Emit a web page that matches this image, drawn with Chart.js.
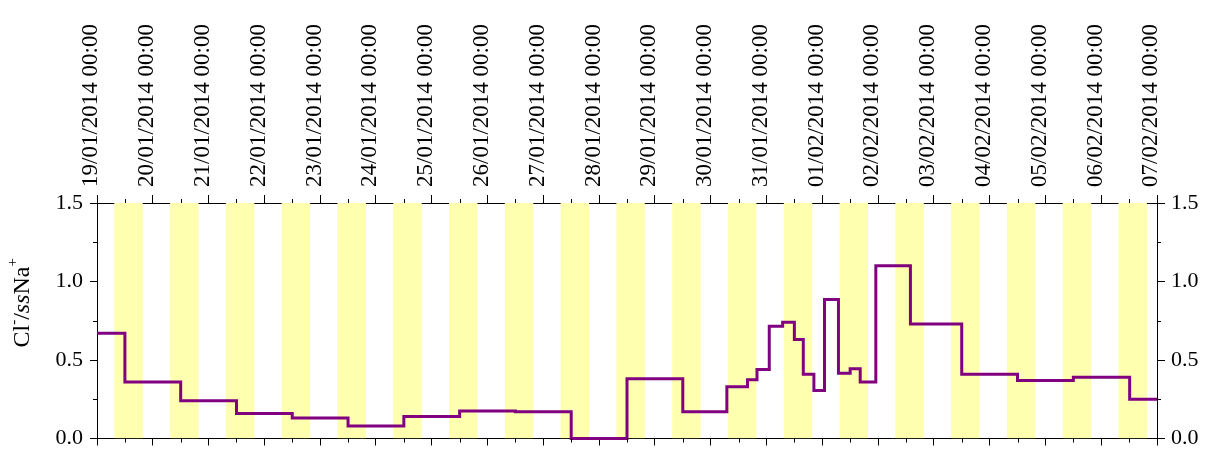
<!DOCTYPE html>
<html>
<head>
<meta charset="utf-8">
<script src="https://cdn.jsdelivr.net/npm/chart.js@4.4.1/dist/chart.umd.min.js"></script>
<style>
  html, body { margin: 0; padding: 0; background: #ffffff; }
  #c { display: block; }
</style>
</head>
<body>
<canvas id="c" width="1211" height="450"></canvas>
<script>
// ---- tick labels (top axis, one per day; x value = days since 19/01/2014 00:00) ----
const dayLabels = [
  '19/01/2014 00:00', '20/01/2014 00:00', '21/01/2014 00:00', '22/01/2014 00:00',
  '23/01/2014 00:00', '24/01/2014 00:00', '25/01/2014 00:00', '26/01/2014 00:00',
  '27/01/2014 00:00', '28/01/2014 00:00', '29/01/2014 00:00', '30/01/2014 00:00',
  '31/01/2014 00:00', '01/02/2014 00:00', '02/02/2014 00:00', '03/02/2014 00:00',
  '04/02/2014 00:00', '05/02/2014 00:00', '06/02/2014 00:00', '07/02/2014 00:00'
];
const yTickLabels = ['0.0', '0.5', '1.0', '1.5'];

// ---- Cl-/ssNa+ series: sample start times (days since 19/01/2014 00:00) and values ----
const sampleStart = [
  0.00, 0.50, 1.50, 2.50, 3.50, 4.50, 5.50, 6.50, 7.50, 8.50,
  9.50, 10.50, 11.29, 11.66, 11.83, 12.05, 12.29, 12.50, 12.66, 12.85,
  13.04, 13.29, 13.50, 13.68, 13.96, 14.58, 15.50, 16.50, 17.50, 18.51,
  19.00
];
const ratioValues = [
  0.67, 0.36, 0.24, 0.16, 0.13, 0.08, 0.14, 0.175, 0.17, 0.00,
  0.38, 0.17, 0.33, 0.375, 0.44, 0.715, 0.74, 0.63, 0.41, 0.305,
  0.885, 0.415, 0.445, 0.36, 1.10, 0.73, 0.41, 0.37, 0.39, 0.25,
  0.25
];

// ---- daylight periods (shaded), days since 19/01/2014 00:00 ----
const daylightStart = [
  0.31, 1.31, 2.31, 3.31, 4.31, 5.31, 6.31, 7.31, 8.31, 9.31,
  10.31, 11.31, 12.31, 13.31, 14.31, 15.31, 16.31, 17.31, 18.31
];
const daylightEnd = [
  0.82, 1.82, 2.82, 3.82, 4.82, 5.82, 6.82, 7.82, 8.82, 9.82,
  10.82, 11.82, 12.82, 13.82, 14.82, 15.82, 16.82, 17.82, 18.82
];
const yMin = 0, yMax = 1.5;

const serif = "'Liberation Serif', 'Times New Roman', 'DejaVu Serif', serif";

const ratioPoints = sampleStart.map((t, i) => ({ x: t, y: ratioValues[i] }));
const bandPoints = [{ x: 0, y: yMin }];
daylightStart.forEach((s, i) => {
  bandPoints.push({ x: s, y: yMax });
  bandPoints.push({ x: daylightEnd[i], y: yMin });
});

// minor tick marks halfway between the library's major ticks
const minorTicks = {
  id: 'minorTicks',
  afterDraw(chart) {
    const ctx = chart.ctx;
    const a = chart.chartArea;
    ctx.save();
    ctx.strokeStyle = '#000';
    ctx.lineWidth = 1;
    ctx.beginPath();
    const xs = chart.scales.x;
    for (let i = 0; i < xs.ticks.length - 1; i++) {
      const mid = (xs.ticks[i].value + xs.ticks[i + 1].value) / 2;
      const px = Math.round(xs.getPixelForValue(mid)) + 0.5;
      ctx.moveTo(px, a.bottom); ctx.lineTo(px, a.bottom + 4);
      ctx.moveTo(px, a.top); ctx.lineTo(px, a.top - 4);
    }
    const ys = chart.scales.y;
    for (let i = 0; i < ys.ticks.length - 1; i++) {
      const mid = (ys.ticks[i].value + ys.ticks[i + 1].value) / 2;
      const py = Math.round(ys.getPixelForValue(mid)) + 0.5;
      ctx.moveTo(a.left, py); ctx.lineTo(a.left - 4, py);
      ctx.moveTo(a.right, py); ctx.lineTo(a.right + 4, py);
    }
    ctx.stroke();
    ctx.restore();
  }
};

// y-axis title with superscripts and italic "ss"
const yTitle = {
  id: 'yTitle',
  afterDraw(chart) {
    const ctx = chart.ctx;
    const a = chart.chartArea;
    const parts = [
      { t: 'Cl', f: `24px ${serif}`, dy: 0 },
      { t: '-', f: `15px ${serif}`, dy: -11 },
      { t: '/', f: `24px ${serif}`, dy: 0 },
      { t: 'ss', f: `italic 24px ${serif}`, dy: 0 },
      { t: 'Na', f: `24px ${serif}`, dy: 0 },
      { t: '+', f: `15px ${serif}`, dy: -12 }
    ];
    ctx.save();
    let total = 0;
    parts.forEach(p => { ctx.font = p.f; p.w = ctx.measureText(p.t).width; total += p.w; });
    ctx.translate(29, (a.top + a.bottom) / 2 - 18);
    ctx.rotate(-Math.PI / 2);
    ctx.fillStyle = '#000';
    ctx.textBaseline = 'alphabetic';
    ctx.textAlign = 'left';
    let x = -total / 2;
    parts.forEach(p => { ctx.font = p.f; ctx.fillText(p.t, x, p.dy); x += p.w; });
    ctx.restore();
  }
};

const axisGrid = (len) => ({ drawOnChartArea: false, tickLength: len, color: '#000', tickWidth: 1 });
const axisBorder = { display: true, color: '#000', width: 1 };
const noPad = (s) => { s.paddingTop = 0; s.paddingBottom = 0; s.paddingLeft = 0; s.paddingRight = 0; };

new Chart(document.getElementById('c').getContext('2d'), {
  type: 'line',
  data: {
    datasets: [
      {
        label: 'Cl-/ssNa+',
        data: ratioPoints,
        stepped: true,
        borderColor: '#800080',
        borderWidth: 3,
        borderJoinStyle: 'miter',
        borderCapStyle: 'butt',
        pointRadius: 0,
        fill: false,
        clip: 4,
        order: 0,
        xAxisID: 'x',
        yAxisID: 'y'
      },
      {
        label: 'daylight',
        data: bandPoints,
        stepped: true,
        borderWidth: 0,
        borderColor: 'rgba(0,0,0,0)',
        backgroundColor: '#ffffb0',
        pointRadius: 0,
        fill: 'origin',
        order: 1,
        xAxisID: 'x',
        yAxisID: 'y'
      }
    ]
  },
  options: {
    responsive: false,
    animation: false,
    devicePixelRatio: 1,
    layout: { padding: 0 },
    plugins: { legend: { display: false }, tooltip: { enabled: false } },
    scales: {
      x: {
        type: 'linear', position: 'bottom', min: 0, max: 19,
        ticks: { display: false, stepSize: 1, autoSkip: false },
        grid: axisGrid(7), border: axisBorder,
        afterFit(s) { s.height = 11.5; noPad(s); }
      },
      xTop: {
        type: 'linear', position: 'top', min: 0, max: 19,
        ticks: {
          stepSize: 1, autoSkip: false, minRotation: 90, maxRotation: 90,
          padding: 8, labelOffset: 22, color: '#000',
          font: { family: serif, size: 23 },
          callback: (v) => dayLabels[Math.round(v)]
        },
        grid: axisGrid(8), border: axisBorder,
        afterFit(s) { s.height = 203; noPad(s); }
      },
      y: {
        type: 'linear', position: 'left', min: yMin, max: yMax,
        ticks: {
          stepSize: 0.5, padding: 7, color: '#000',
          font: { family: serif, size: 22 },
          callback: (v, i) => yTickLabels[i]
        },
        grid: axisGrid(7), border: axisBorder,
        afterFit(s) { s.width = 97; noPad(s); }
      },
      yRight: {
        type: 'linear', position: 'right', min: yMin, max: yMax,
        ticks: {
          stepSize: 0.5, padding: 6, color: '#000',
          font: { family: serif, size: 22 },
          callback: (v, i) => yTickLabels[i]
        },
        grid: axisGrid(8), border: axisBorder,
        afterFit(s) { s.width = 54; noPad(s); }
      }
    }
  },
  plugins: [minorTicks, yTitle]
});
</script>
</body>
</html>
